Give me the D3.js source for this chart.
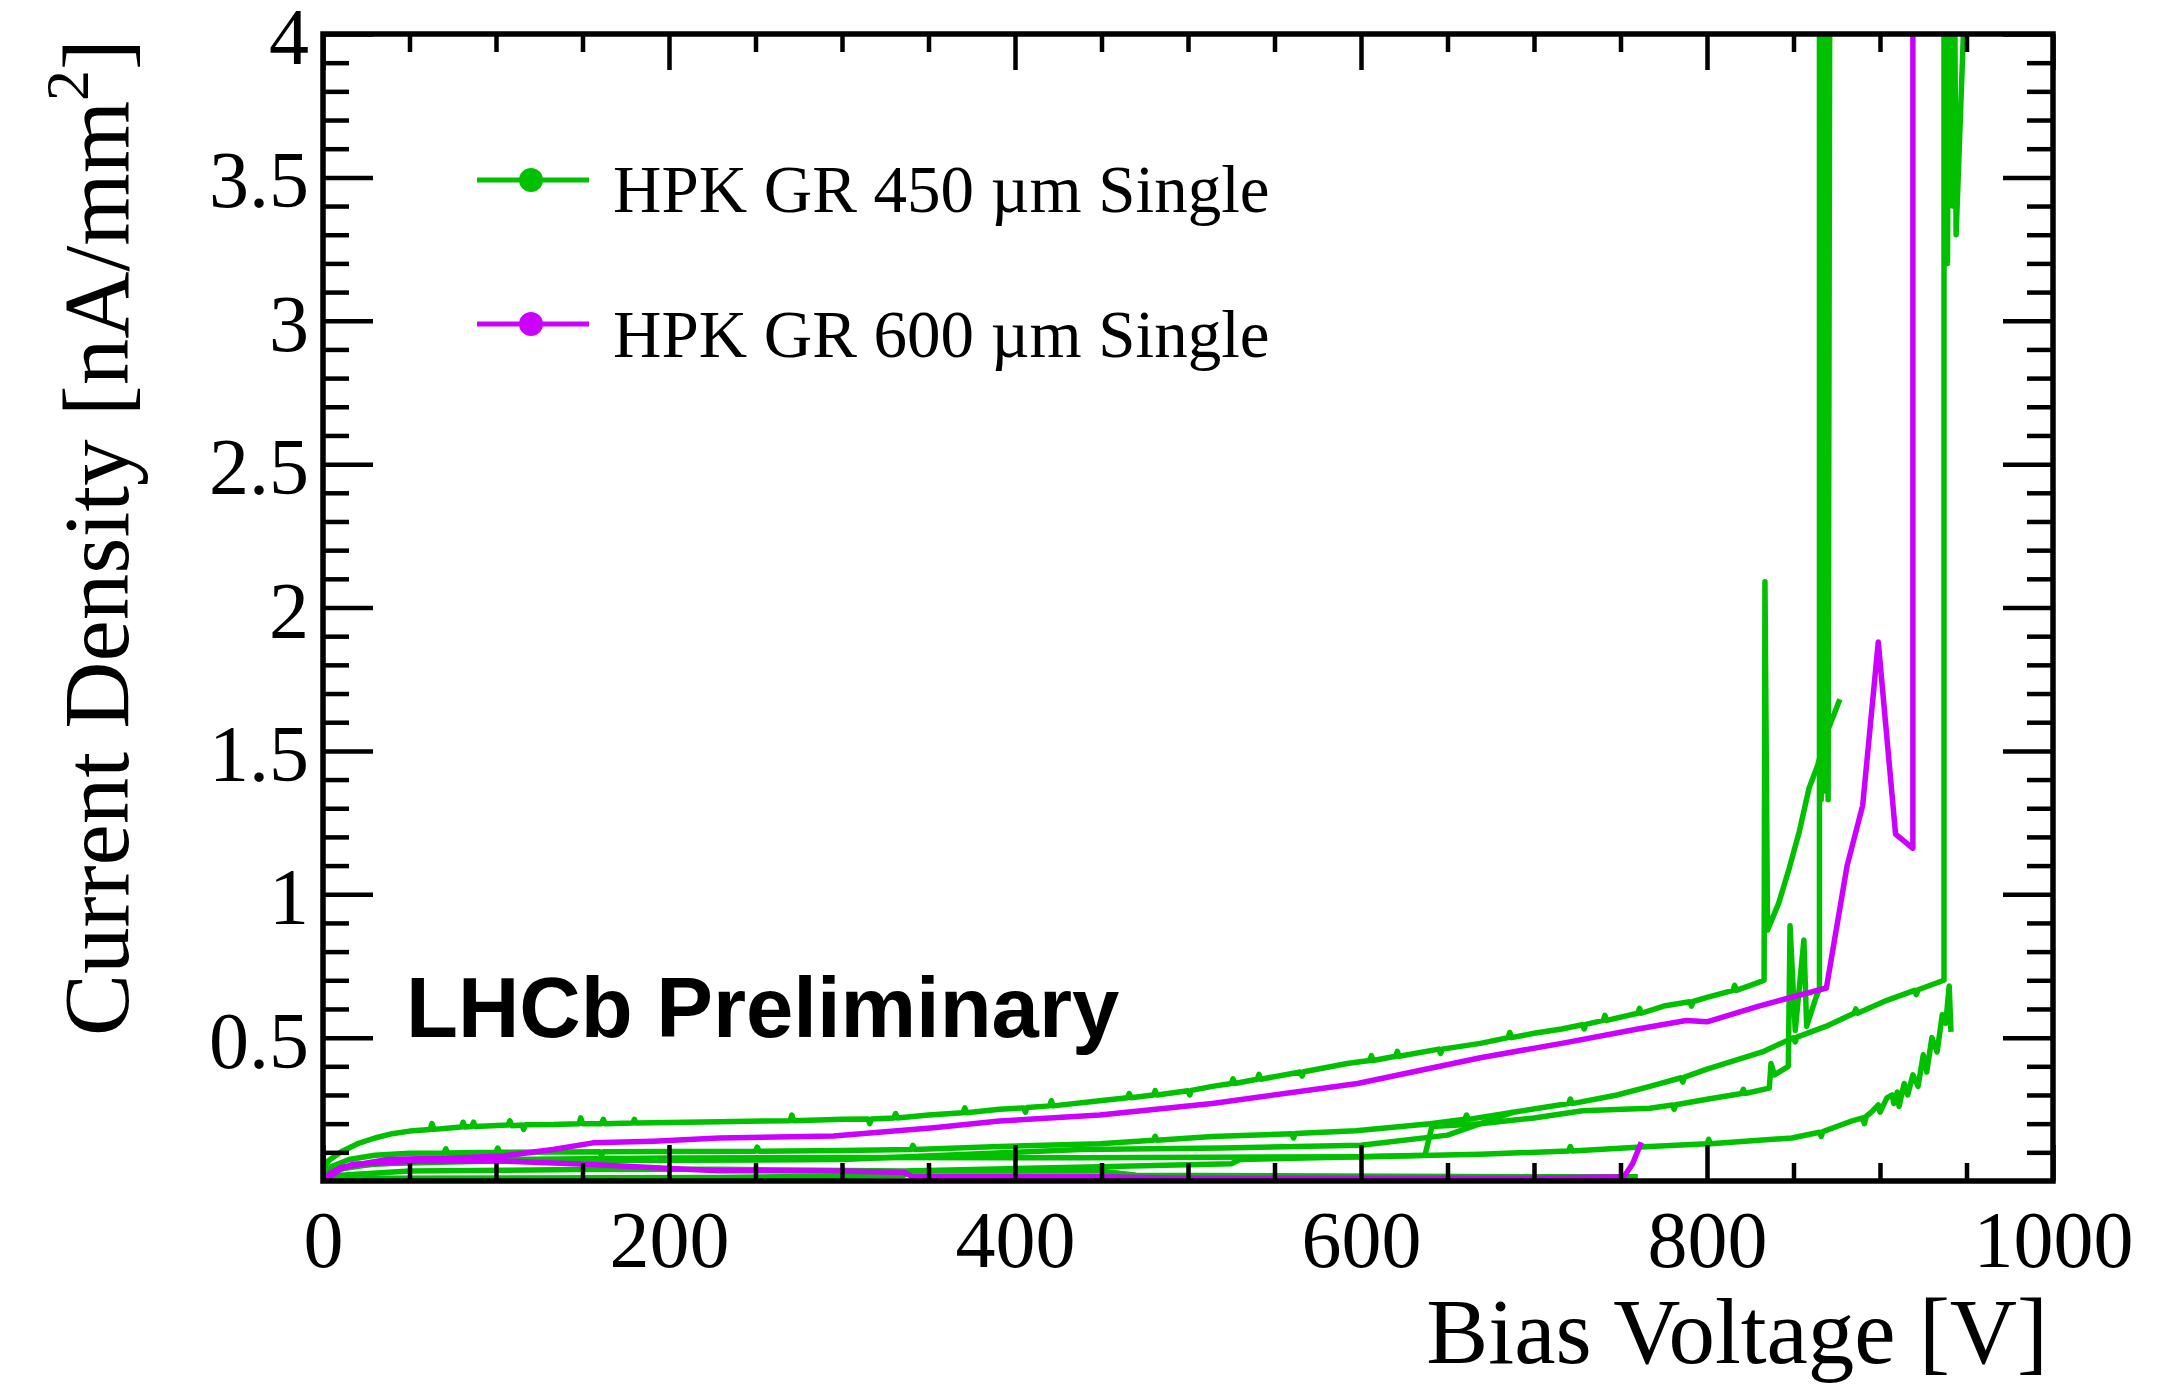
<!DOCTYPE html>
<html>
<head>
<meta charset="utf-8">
<script src="https://cdn.jsdelivr.net/npm/d3@7/dist/d3.min.js"></script>
<style>
  body { margin: 0; background: #fff; }
  svg text { font-family: "Liberation Serif", "Times New Roman", serif; fill: #000; }
</style>
</head>
<body>
<div id="chart"></div>
<script>
// tick labels
const xTicks = [0, 200, 400, 600, 800, 1000]
const xTickLabels = ["0", "200", "400", "600", "800", "1000"]
const yTicks = [0.5, 1, 1.5, 2, 2.5, 3, 3.5, 4]
const yTickLabels = ["0.5", "1", "1.5", "2", "2.5", "3", "3.5", "4"]

const seriesNames = ["HPK GR 450 \u00b5m Single", "HPK GR 600 \u00b5m Single"]

// HPK GR 450 um sensors, [bias V, nA/mm2]
const g450a = [[0,0.03],[3,0.07],[10,0.1],[20,0.13],[30,0.15],[40,0.165],[50,0.174],[62,0.18],[63,0.2],[64,0.18],
  [75,0.186],[80,0.188],[81,0.205],[82,0.188],[86,0.19],[87,0.205],[88,0.19],[107,0.195],[108,0.21],[109,0.193],
  [115,0.195],[116,0.18],[117,0.196],[133,0.197],[148,0.2],[149,0.22],[150,0.2],[161,0.2],[162,0.215],[163,0.2],
  [179,0.202],[180,0.215],[181,0.202],[229,0.207],[270,0.21],[271,0.23],[272,0.21],[300,0.215],[315,0.216],[316,0.2],
  [317,0.216],[330,0.22],[331,0.235],[332,0.22],[350,0.23],[370,0.238],[371,0.255],[372,0.238],[391,0.25],[405,0.255],
  [406,0.24],[407,0.256],[420,0.262],[421,0.28],[422,0.262],[449,0.28],[465,0.29],[466,0.305],[467,0.29],[480,0.3],
  [481,0.315],[482,0.3],[500,0.315],[501,0.3],[502,0.316],[514,0.33],[525,0.34],[526,0.356],[527,0.34],[540,0.355],
  [541,0.372],[542,0.355],[565,0.38],[566,0.366],[567,0.381],[592,0.41],[605,0.42],[606,0.437],[607,0.42],[620,0.435],
  [621,0.452],[622,0.435],[645,0.46],[646,0.445],[647,0.46],[669,0.48],[685,0.5],[686,0.518],[687,0.5],[700,0.515],
  [716,0.53],[728,0.545],[729,0.53],[730,0.546],[740,0.56],[741,0.578],[742,0.56],[760,0.585],[761,0.602],[762,0.585],
  [775,0.61],[790,0.625],[791,0.61],[792,0.626],[800,0.64],[815,0.665],[816,0.682],[817,0.665],[831,0.695],[833,0.7],
  [833.5,2.09],[835,0.875],[841.5,0.97],[847.5,1.09],[853.4,1.22],[859,1.37],[864,1.45],[869,1.56],[873.6,1.63],
  [876.8,1.68]]
const g450b = [[0,0],[5,0.05],[15,0.075],[30,0.09],[50,0.097],[70,0.098],[71,0.112],[72,0.098],[100,0.1],[101,0.115],
  [102,0.1],[160,0.102],[161,0.088],[162,0.102],[200,0.103],[250,0.104],[251,0.118],[252,0.104],[300,0.106],[340,0.11],
  [341,0.124],[342,0.11],[391,0.12],[449,0.13],[480,0.142],[481,0.156],[482,0.142],[514,0.155],[560,0.165],[561,0.15],
  [562,0.166],[597,0.175],[640,0.2],[660,0.215],[661,0.23],[662,0.215],[688,0.24],[720,0.27],[721,0.286],[722,0.27],
  [748,0.3],[767,0.33],[785,0.36],[786,0.345],[787,0.362],[800,0.39],[832,0.45],[850,0.5],[851,0.485],[852,0.502],
  [869,0.54],[885,0.585],[886,0.6],[887,0.585],[904,0.63],[920,0.665],[921,0.65],[922,0.667],[937,0.7],[937,4.3],
  [939,3.2],[940,4.3],[942,3.4],[943,4.3],[944,3.3],[950,4.3]]
const g450c = [[0,0],[5,0.04],[20,0.055],[50,0.065],[100,0.075],[200,0.08],[300,0.082],[438,0.081],[600,0.085],
  [637,0.09],[641,0.19],[669,0.2],[700,0.22],[728,0.245],[767,0.254],[780,0.265],[781,0.25],[782,0.266],[800,0.285],
  [820,0.305],[821,0.32],[822,0.305],[836,0.324],[837,0.41],[839,0.37],[847,0.4],[848,0.89],[851,0.525],[856,0.84],
  [857.6,0.54],[863,0.64],[865,0.67],[865,4.3],[866,1.33],[867,4.3],[868,1.36],[869,4.3],[870,1.33],[871,4.3]]
const g450d = [[0,0],[10,0.02],[50,0.035],[150,0.04],[229,0.041],[336,0.035],[449,0.05],[525,0.06],[530,0.075],
  [669,0.093],[720,0.105],[721,0.12],[722,0.105],[767,0.12],[800,0.13],[801,0.145],[802,0.13],[849,0.15],[865,0.17],
  [866,0.155],[867,0.172],[884,0.21],[890,0.22],[891,0.2],[892,0.225],[895,0.24],[899,0.265],[900,0.24],[904,0.29],
  [907,0.3],[908,0.27],[910,0.31],[911,0.26],[914,0.34],[916,0.3],[919,0.37],[922,0.33],[925,0.44],[927,0.38],
  [930,0.5],[933,0.45],[936,0.58],[938,0.55],[940,0.68],[941,0.52]]
const g450e = [[0,0],[30,0.01],[229,0.012],[336,0.02],[340,0.035],[449,0.035],[470,0.02],[700,0.015],[760,0.015]]
const g450f = [[0,0],[8,0.04],[30,0.06],[100,0.07],[200,0.072],[300,0.075],[400,0.1],[438,0.11],[520,0.115],
  [600,0.125],[650,0.16],[688,0.24]]

// HPK GR 600 um sensors
const g600a = [[0,0.005],[5,0.03],[10,0.046],[37,0.075],[79,0.081],[104,0.087],[133,0.11],[156,0.133],[191,0.139],
  [229,0.15],[295,0.157],[353,0.186],[391,0.209],[449,0.23],[514,0.27],[598,0.34],[669,0.43],[716,0.48],[760,0.53],
  [788,0.56],[800,0.555],[830,0.61],[869,0.673],[881,1.1],[890,1.31],[899,1.88],[909,1.21],[919,1.16],[919,4.3]]
const g600b = [[0,0],[10,0.04],[17,0.058],[56,0.07],[104,0.07],[152,0.058],[210,0.041],[229,0.036],[300,0.035],
  [336,0.03],[340,0.017],[450,0.015],[500,0.01],[700,0.01],[752,0.015],[757,0.06],[762,0.135]]

const green = "#00c000"
const magenta = "#cc00ff"

const svg = d3.select("#chart").append("svg")
  .attr("width", 2182)
  .attr("height", 1385)

const x = d3.scaleLinear().domain([0, 1000]).range([323, 2053])
const y = d3.scaleLinear().domain([0, 4]).range([1181, 34])

svg.append("clipPath").attr("id", "plotclip")
  .append("rect")
    .attr("x", 323).attr("y", 34)
    .attr("width", 1730).attr("height", 1147)

const line = d3.line()
  .x(d => x(d[0]))
  .y(d => y(d[1]))

const gCurves = svg.append("g").attr("clip-path", "url(#plotclip)")

const curves = [
  {data: g450f, color: green}, {data: g450e, color: green}, {data: g450d, color: green},
  {data: g450c, color: green}, {data: g450b, color: green}, {data: g450a, color: green},
  {data: g600b, color: magenta}, {data: g600a, color: magenta}
]

gCurves.selectAll("path")
  .data(curves)
  .enter().append("path")
    .attr("d", d => line(d.data))
    .attr("fill", "none")
    .attr("stroke", d => d.color)
    .attr("stroke-width", 5.5)
    .attr("stroke-linejoin", "round")

// minor ticks
const xMinor = d3.range(0, 1001, 50).filter(v => !xTicks.includes(v))
const yMinor = d3.range(1, 40).map(v => v / 10).filter(v => !yTicks.includes(v))

function addAxis(axis, tx, ty) {
  const g = svg.append("g")
    .attr("transform", `translate(${tx},${ty})`)
    .call(axis)
  g.select(".domain").remove()
  g.selectAll("line").attr("stroke", "#000").attr("stroke-width", 4.5)
  g.attr("font-size", 80).attr("font-family", "Liberation Serif, Times New Roman, serif")
  return g
}

addAxis(d3.axisBottom(x).tickValues(xTicks).tickSize(-36).tickPadding(29)
  .tickFormat((d, i) => xTickLabels[i]), 0, 1181)
addAxis(d3.axisBottom(x).tickValues(xMinor).tickSize(-18).tickFormat(""), 0, 1181)
addAxis(d3.axisTop(x).tickValues(xTicks).tickSize(-36).tickFormat(""), 0, 34)
addAxis(d3.axisTop(x).tickValues(xMinor).tickSize(-18).tickFormat(""), 0, 34)

const yLab = addAxis(d3.axisLeft(y).tickValues(yTicks).tickSize(-50).tickPadding(14)
  .tickFormat((d, i) => yTickLabels[i]), 323, 0)
yLab.selectAll("text").attr("dy", "0.37em")
addAxis(d3.axisLeft(y).tickValues(yMinor).tickSize(-26).tickFormat(""), 323, 0)
addAxis(d3.axisRight(y).tickValues(yTicks).tickSize(-50).tickFormat(""), 2053, 0)
addAxis(d3.axisRight(y).tickValues(yMinor).tickSize(-26).tickFormat(""), 2053, 0)

svg.append("rect")
  .attr("x", 323).attr("y", 34)
  .attr("width", 1730).attr("height", 1147)
  .attr("fill", "none")
  .attr("stroke", "#000")
  .attr("stroke-width", 5.5)

// axis titles
svg.append("text")
  .attr("x", 2048).attr("y", 1363)
  .attr("text-anchor", "end")
  .attr("font-size", 93)
  .text("Bias Voltage [V]")

const yTitle = svg.append("text")
  .attr("transform", "translate(128,39) rotate(-90)")
  .attr("text-anchor", "end")
  .attr("font-size", 93)
yTitle.append("tspan").text("Current Density [nA/mm")
yTitle.append("tspan").attr("font-size", 62).attr("dy", -40).text("2")
yTitle.append("tspan").attr("dy", 40).text("]")

// LHCb label
svg.append("text")
  .attr("x", 406).attr("y", 1037)
  .attr("font-size", 85)
  .style("font-family", "'Liberation Sans', Arial, sans-serif")
  .style("font-weight", "bold")
  .text("LHCb Preliminary")

// legend
const legend = svg.append("g")
const legendRows = [
  {name: seriesNames[0], color: green, ly: 180, ty: 212},
  {name: seriesNames[1], color: magenta, ly: 324, ty: 357}
]
legendRows.forEach(r => {
  legend.append("line")
    .attr("x1", 477).attr("x2", 589)
    .attr("y1", r.ly).attr("y2", r.ly)
    .attr("stroke", r.color).attr("stroke-width", 5)
  legend.append("circle")
    .attr("cx", 531).attr("cy", r.ly).attr("r", 12)
    .attr("fill", r.color)
  legend.append("text")
    .attr("x", 613).attr("y", r.ty)
    .attr("font-size", 67)
    .text(r.name)
})
</script>
</body>
</html>
